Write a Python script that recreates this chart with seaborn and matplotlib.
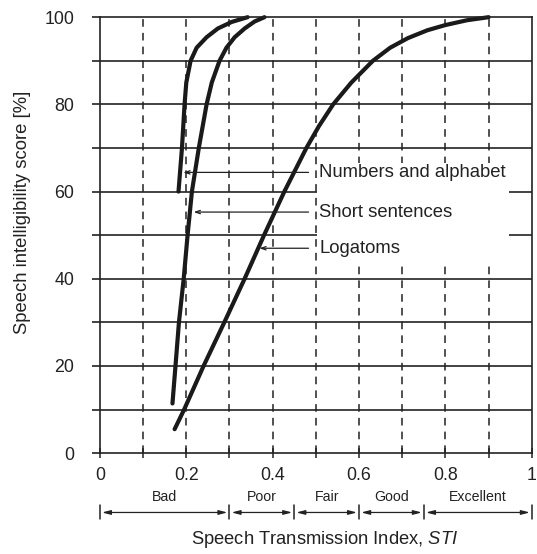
import numpy as np
import pandas as pd
import seaborn as sns
import matplotlib.pyplot as plt
from matplotlib.patches import Rectangle
from matplotlib.transforms import blended_transform_factory

# curve data
sti_num = [0.182, 0.186, 0.190, 0.196, 0.200, 0.210, 0.224, 0.247, 0.273, 0.305, 0.342]
score_num = [60, 65, 70, 80, 85, 90, 93, 95.4, 97.4, 98.9, 100]

sti_short = [0.168, 0.175, 0.183, 0.194, 0.203, 0.213, 0.229, 0.247, 0.259, 0.277,
             0.293, 0.312, 0.335, 0.358, 0.381]
score_short = [11.4, 20, 30, 40, 50, 60, 70, 80, 85, 90, 93, 95.4, 97.4, 99, 100]

sti_log = [0.173, 0.195, 0.240, 0.288, 0.335, 0.380, 0.427, 0.478, 0.507, 0.540, 0.582,
           0.632, 0.672, 0.713, 0.758, 0.800, 0.850, 0.900]
score_log = [5.5, 10, 20, 30, 40, 50, 60, 70, 75, 80, 85, 90, 93, 95.2, 97, 98.2, 99.3, 100]

curve_names = ['Numbers and alphabet', 'Short sentences', 'Logatoms']
label_y = [64.4, 55.3, 47.0]
arrow_tip = [0.193, 0.217, 0.369]

bands = ['Bad', 'Poor', 'Fair', 'Good', 'Excellent']
band_edges = [0, 0.3, 0.45, 0.6, 0.75, 1.0]

sns.set_style('ticks')
plt.rcParams['font.family'] = ['Liberation Sans', 'DejaVu Sans']
plt.rcParams['mathtext.fontset'] = 'custom'
plt.rcParams['mathtext.it'] = 'Liberation Sans:italic'
plt.rcParams['mathtext.rm'] = 'Liberation Sans'
txt = '#222222'

fig = plt.figure(figsize=(5.37, 5.54), dpi=100)
ax = fig.add_axes([0.186, 0.182, 0.8045, 0.787])

# grid
for yv in range(10, 100, 10):
    ax.axhline(yv, color='#222', lw=1.2, zorder=1)
for xv in np.arange(0.1, 0.95, 0.1):
    ax.axvline(xv, color='#222', lw=1.1, ls=(0, (5, 4)), zorder=1)

# white box behind the labels
ax.add_patch(Rectangle((0.503, 43.6), 0.443, 22.9, facecolor='white', edgecolor='none', zorder=2))

df = pd.concat([
    pd.DataFrame({'sti': sti_num, 'score': score_num, 'test': curve_names[0]}),
    pd.DataFrame({'sti': sti_short, 'score': score_short, 'test': curve_names[1]}),
    pd.DataFrame({'sti': sti_log, 'score': score_log, 'test': curve_names[2]}),
])
for name in curve_names:
    d = df[df['test'] == name]
    sns.lineplot(data=d, x='sti', y='score', ax=ax, sort=False, estimator=None,
                 color='#1a1a1a', lw=3, zorder=3, clip_on=False)

for name, yv, tip in zip(curve_names, label_y, arrow_tip):
    ax.annotate('', xy=(tip, yv), xytext=(0.483, yv),
                arrowprops=dict(arrowstyle='->,head_length=0.35,head_width=0.12',
                                lw=0.9, color='#222', shrinkA=0, shrinkB=0), zorder=4)
    ax.text(0.508, yv, name, fontsize=13.3, color=txt, va='center', ha='left', zorder=4)

ax.set_xlim(0, 1)
ax.set_ylim(0, 100)
ax.set_xticks(np.arange(0, 1.01, 0.2))
ax.set_xticklabels(['0', '0.2', '0.4', '0.6', '0.8', '1'])
ax.set_xticks(np.arange(0.1, 1.0, 0.2), minor=True)
ax.set_yticks(range(0, 101, 20))
ax.set_yticks(range(10, 100, 20), minor=True)
ax.tick_params(axis='x', which='both', direction='inout', length=7.5, width=1.1, color='#222',
               labelsize=12.8, labelcolor=txt, pad=6)
ax.tick_params(axis='y', which='both', direction='out', length=5.5, width=1.2, color='#222',
               labelsize=12.8, labelcolor=txt, pad=13)
for s in ax.spines.values():
    s.set_linewidth(1.2)
    s.set_color('#222')
    s.set_zorder(5)

ax.set_xlabel('')
ax.set_ylabel('')
fig.text(23 / 537, 1 - 212 / 554, 'Speech intelligibility score [%]', rotation=90,
         ha='center', va='center', fontsize=13.3, color=txt)

# STI band arrows below the axis
tr = blended_transform_factory(ax.transData, ax.transAxes)
for i, name in enumerate(bands):
    x0, x1 = band_edges[i], band_edges[i + 1]
    ax.annotate('', xy=(x1, -0.136), xytext=(x0, -0.136), xycoords=tr, textcoords=tr,
                arrowprops=dict(arrowstyle='<|-|>,head_length=0.5,head_width=0.13',
                                lw=0.9, color='#222', shrinkA=1.5, shrinkB=1.5),
                annotation_clip=False)
    ax.text((x0 + x1) / 2, -0.101, name, transform=tr, ha='center', va='center',
            fontsize=10.2, color=txt)
for e in band_edges:
    ax.plot([e, e], [-0.119, -0.15], transform=tr, color='#222', lw=1.1, clip_on=False)

fig.text(325 / 537, 1 - 540 / 554, 'Speech Transmission Index, $\\mathit{STI}$',
         ha='center', va='center', fontsize=13.2, color=txt)

fig.savefig('out.png', dpi=100)
